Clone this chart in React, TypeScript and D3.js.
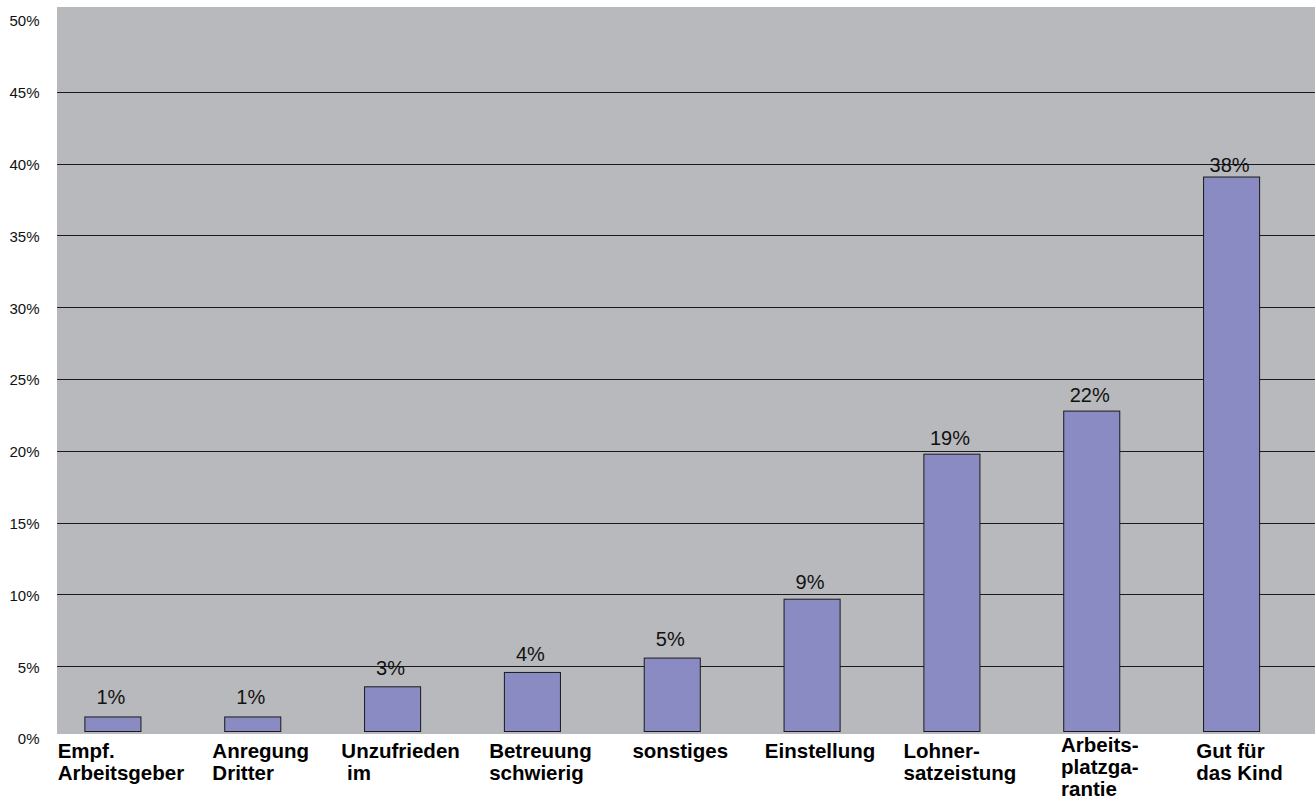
import React from "react";
import * as d3 from "d3";

const categories: string[][] = [
  ["Empf.", "Arbeitsgeber"],
  ["Anregung", "Dritter"],
  ["Unzufrieden", " im"],
  ["Betreuung", "schwierig"],
  ["sonstiges"],
  ["Einstellung"],
  ["Lohner-", "satzeistung"],
  ["Arbeits-", "platzga-", "rantie"],
  ["Gut für", "das Kind"],
];
const barValues: number[] = [1.5, 1.5, 3.6, 4.6, 5.6, 9.7, 19.8, 22.8, 39.1];
const labelValues: number[] = [1, 1, 3, 4, 5, 9, 19, 22, 38];
const yTicks: number[] = [0, 5, 10, 15, 20, 25, 30, 35, 40, 45, 50];

const W = 1315;
const H = 803;
const FONT = "'Liberation Sans', Arial, Helvetica, sans-serif";

let ctx: CanvasRenderingContext2D | null = null;
function measure(t: string, font: string): number {
  if (!ctx) ctx = document.createElement("canvas").getContext("2d");
  if (!ctx) return t.length * 11;
  ctx.font = font;
  return ctx.measureText(t).width;
}

export default function App() {
  const plotLeft = 57;
  const plotRight = 1315;
  const plotTop = 7;
  const plotBottom = 734;
  const barBase = plotBottom - 3;

  const y = d3.scaleLinear().domain([0, 50]).range([738, 20]);
  const x = d3
    .scaleBand<number>()
    .domain(categories.map((_, i) => i))
    .range([43, 1301.5])
    .paddingInner(0.592)
    .paddingOuter(0.296);

  const catSize = 20.5;
  const labelFont = `bold ${catSize}px ${FONT}`;
  const lineH = 22;

  return (
    <svg
      width={W}
      height={H}
      style={{ position: "absolute", left: 0, top: 0, background: "#fff" }}
      fontFamily={FONT}
    >
      <rect
        x={plotLeft}
        y={plotTop}
        width={plotRight - plotLeft}
        height={plotBottom - plotTop}
        fill="#B8B9BD"
      />
      {yTicks
        .filter((t) => t > 0 && t < 50)
        .map((t) => (
          <line
            key={"g" + t}
            x1={plotLeft}
            x2={plotRight}
            y1={Math.round(y(t)) + 0.5}
            y2={Math.round(y(t)) + 0.5}
            stroke="#1a1a1a"
            strokeWidth={1}
          />
        ))}
      {yTicks.map((t) => (
        <text
          key={"y" + t}
          x={39.5}
          y={y(t) + 2.5}
          textAnchor="end"
          dominantBaseline="middle"
          fontSize={15}
          fill="#111"
        >
          {t}%
        </text>
      ))}
      {barValues.map((v, i) => (
        <rect
          key={"b" + i}
          x={(x(i) ?? 0) + 0.5}
          y={y(v) + 0.5}
          width={x.bandwidth() - 1}
          height={barBase - y(v)}
          fill="#8B8BC4"
          stroke="#1a1a1a"
          strokeWidth={1}
        />
      ))}
      {labelValues.map((v, i) => (
        <text
          key={"l" + i}
          x={(x(i) ?? 0) + x.bandwidth() / 2 - 2}
          y={y(v) - 20}
          textAnchor="middle"
          fontSize={20}
          fill="#111"
        >
          {v}%
        </text>
      ))}
      {categories.map((lines, i) => {
        const cx = (x(i) ?? 0) + x.bandwidth() / 2 + 8;
        const wmax = Math.max(...lines.map((l) => measure(l, labelFont)));
        const left = cx - wmax / 2;
        const first = 758 - Math.max(0, lines.length - 2) * 6;
        return (
          <text
            key={"c" + i}
            x={left}
            y={first}
            fontSize={catSize}
            fontWeight="bold"
            fill="#000"
            style={{ whiteSpace: "pre" }}
          >
            {lines.map((l, j) => (
              <tspan key={j} x={left} y={first + j * lineH}>
                {l}
              </tspan>
            ))}
          </text>
        );
      })}
    </svg>
  );
}
